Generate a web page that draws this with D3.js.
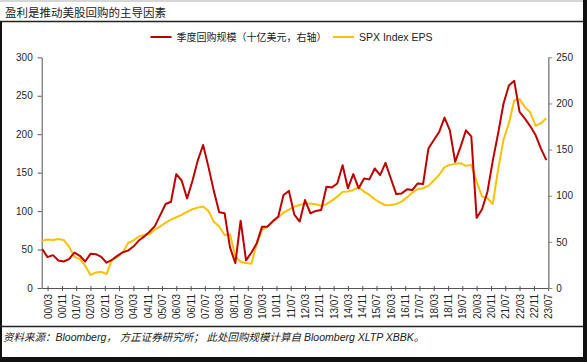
<!DOCTYPE html>
<html>
<head>
<meta charset="utf-8">
<script src="https://cdn.jsdelivr.net/npm/d3@7"></script>
<style>
  body { margin: 0; background: #fff; }
  svg { display: block; }
  .axis text { font-family: "Liberation Sans", Arial, sans-serif; font-size: 10px; fill: #262626; }
</style>
</head>
<body>
<div id="chart"></div>
<script>
/* global d3 */
"use strict";

// quarterly observations, first one in Dec 1999
var startYear = 1999, startMonth = 11;

// 季度回购规模（十亿美元，右轴）
var buyback = [
  42.1, 33.5, 35.6, 29.8, 28.7, 31.3, 38.4, 34.9, 28.7, 37.0,
  36.7, 33.8, 27.4, 30.4, 34.8, 38.7, 40.5, 44.9, 51.4, 55.7,
  61.0, 67.0, 79.0, 91.0, 93.5, 123.4, 116.5, 97.0, 116.0, 138.0,
  155.0, 131.0, 105.0, 82.0, 81.0, 44.0, 27.0, 73.0, 30.0, 38.5,
  48.6, 66.5, 66.5, 72.5, 77.3, 100.7, 105.2, 79.5, 72.0, 95.3,
  81.0, 83.5, 84.5, 109.7, 109.0, 113.3, 133.0, 108.0, 123.4, 108.0,
  118.7, 117.7, 129.5, 122.3, 135.6, 118.7, 101.8, 102.5, 106.9, 106.1,
  113.3, 112.6, 151.1, 160.1, 169.0, 184.6, 170.9, 136.7, 152.9, 170.9,
  164.4, 76.0, 85.3, 104.3, 138.0, 167.3, 199.7, 219.4, 224.5, 191.0,
  183.5, 175.2, 165.5, 151.1, 138.5
];

// SPX Index EPS（左轴）
var eps = [
  61.6, 63.0, 62.5, 63.8, 62.5, 53.8, 40.5, 37.8, 29.0, 16.8,
  20.3, 21.0, 18.0, 36.8, 40.3, 46.0, 58.5, 62.0, 67.0, 69.0,
  70.0, 76.0, 80.0, 85.0, 89.0, 92.0, 95.0, 99.0, 102.5, 104.5,
  106.0, 100.0, 86.0, 80.0, 69.0, 69.5, 41.0, 34.0, 32.5, 31.5,
  58.0, 75.5, 80.0, 86.0, 92.0, 98.0, 102.0, 105.8, 108.0, 110.0,
  110.0, 109.0, 107.0, 109.0, 113.6, 118.8, 125.0, 125.5, 127.5, 131.0,
  125.4, 121.0, 115.4, 111.0, 107.6, 108.0, 109.3, 112.3, 118.0, 124.0,
  128.4, 129.7, 132.8, 139.7, 147.1, 157.1, 160.1, 161.4, 162.3, 158.8,
  160.1, 138.3, 118.8, 116.7, 109.3, 153.6, 192.6, 214.3, 243.8, 245.6,
  235.2, 228.2, 210.8, 214.3, 220.8
];

var leftTicks = [0, 50, 100, 150, 200, 250, 300];
var rightTicks = [0, 50, 100, 150, 200, 250];
var titleText = "盈利是推动美股回购的主导因素";
var sourceText = "资料来源：Bloomberg， 方正证券研究所； 此处回购规模计算自 Bloomberg XLTP XBBK。";
var legendNames = ["季度回购规模（十亿美元，右轴）", "SPX Index EPS"];
var colors = ["#C00000", "#FFC000"];

var width = 587, height = 362;
var margin = {top: 57.3, right: 38.7, bottom: 74, left: 41.7};

var data = buyback.map(function(v, i) {
  return {date: new Date(startYear, startMonth + 3 * i, 1), buyback: v, eps: eps[i]};
});

// x-axis labels every 8 months from 00/03 to 23/07
var tickDates = d3.timeMonth.range(new Date(2000, 2, 1), new Date(2023, 7, 1), 8);

var svg = d3.select("#chart").append("svg")
  .attr("width", width)
  .attr("height", height);

// frame
svg.append("rect").attr("x", 0).attr("y", 0).attr("width", width).attr("height", height).attr("fill", "#fff");
svg.append("line").attr("x1", 0).attr("x2", 583).attr("y1", 1).attr("y2", 1)
  .attr("stroke", "#c8c8c8").attr("stroke-width", 1.5);
svg.append("rect").attr("x", 583).attr("y", 0).attr("width", 4).attr("height", height).attr("fill", "#111");
svg.append("rect").attr("x", 0).attr("y", 357).attr("width", width).attr("height", 5).attr("fill", "#111");
svg.append("rect").attr("x", 0).attr("y", 22).attr("width", 2).attr("height", 335).attr("fill", "#111");

// title
svg.append("text")
  .attr("x", 5).attr("y", 16.5)
  .attr("font-family", "'Noto Sans CJK SC', sans-serif")
  .attr("font-size", 11.5)
  .attr("fill", "#222")
  .text(titleText);
svg.append("line").attr("x1", 0).attr("x2", 583).attr("y1", 21.5).attr("y2", 21.5)
  .attr("stroke", "#222").attr("stroke-width", 1.3);

// footer
svg.append("line").attr("x1", 0).attr("x2", 583).attr("y1", 326.5).attr("y2", 326.5)
  .attr("stroke", "#222").attr("stroke-width", 1.3);
svg.append("text")
  .attr("x", 3).attr("y", 341)
  .attr("font-family", "'Liberation Sans', 'Noto Sans CJK SC', sans-serif")
  .attr("font-size", 10.5)
  .attr("font-style", "italic")
  .attr("fill", "#222")
  .text(sourceText);

var x = d3.scaleTime()
  .domain([new Date(1999, 10, 22), new Date(2023, 6, 4)])
  .range([margin.left, width - margin.right]);
var yL = d3.scaleLinear().domain([0, 300]).range([height - margin.bottom, margin.top]);
var yR = d3.scaleLinear().domain([0, 250]).range([height - margin.bottom, margin.top]);

// axes
var gx = svg.append("g").attr("class", "axis")
  .attr("transform", "translate(0," + (height - margin.bottom) + ")")
  .call(d3.axisBottom(x).tickValues(tickDates).tickFormat(d3.timeFormat("%y/%m"))
    .tickSizeOuter(0).tickSizeInner(4));
gx.selectAll(".tick line").attr("y1", -2).attr("y2", 3);
gx.selectAll(".tick text")
  .attr("transform", "rotate(-90)")
  .attr("text-anchor", "end")
  .attr("x", -6).attr("y", 0).attr("dy", "0.35em");

var gl = svg.append("g").attr("class", "axis")
  .attr("transform", "translate(" + margin.left + ",0)")
  .call(d3.axisLeft(yL).tickValues(leftTicks).tickSizeOuter(0).tickSizeInner(4).tickPadding(5));

var gr = svg.append("g").attr("class", "axis")
  .attr("transform", "translate(" + (width - margin.right) + ",0)")
  .call(d3.axisRight(yR).tickValues(rightTicks).tickSizeOuter(0).tickSizeInner(4).tickPadding(4));

gx.select(".domain").attr("stroke", "#555");
gx.selectAll(".tick line").attr("stroke", "#555");
gl.select(".domain").attr("stroke", "#555");
gl.selectAll(".tick line").attr("stroke", "#555");
gr.select(".domain").attr("stroke", "#888").attr("stroke-width", 1.5);
gr.selectAll(".tick line").attr("stroke", "#888");

// series
var epsLine = d3.line()
  .x(function(d) { return x(d.date); })
  .y(function(d) { return yL(d.eps); });
var buybackLine = d3.line()
  .x(function(d) { return x(d.date); })
  .y(function(d) { return yR(d.buyback); });

svg.append("path").datum(data)
  .attr("fill", "none").attr("stroke", colors[1]).attr("stroke-width", 2)
  .attr("stroke-linejoin", "round")
  .attr("d", epsLine);
svg.append("path").datum(data)
  .attr("fill", "none").attr("stroke", colors[0]).attr("stroke-width", 2)
  .attr("stroke-linejoin", "round")
  .attr("d", buybackLine);

// legend
var legendX = [150.5, 333];
var legend = svg.selectAll(".legend").data(legendNames).enter()
  .append("g").attr("class", "legend")
  .attr("transform", function(d, i) { return "translate(" + legendX[i] + ",37)"; });
legend.append("line")
  .attr("x1", 0).attr("x2", 21).attr("y1", 0).attr("y2", 0)
  .attr("stroke", function(d, i) { return colors[i]; })
  .attr("stroke-width", 2);
legend.append("text")
  .attr("x", 26).attr("y", 0).attr("dy", "0.35em")
  .attr("font-family", "'Liberation Sans', 'Noto Sans CJK SC', sans-serif")
  .attr("font-size", function(d, i) { return i === 0 ? 10 : 10.5; })
  .attr("fill", "#222")
  .text(function(d) { return d; });
</script>
</body>
</html>
